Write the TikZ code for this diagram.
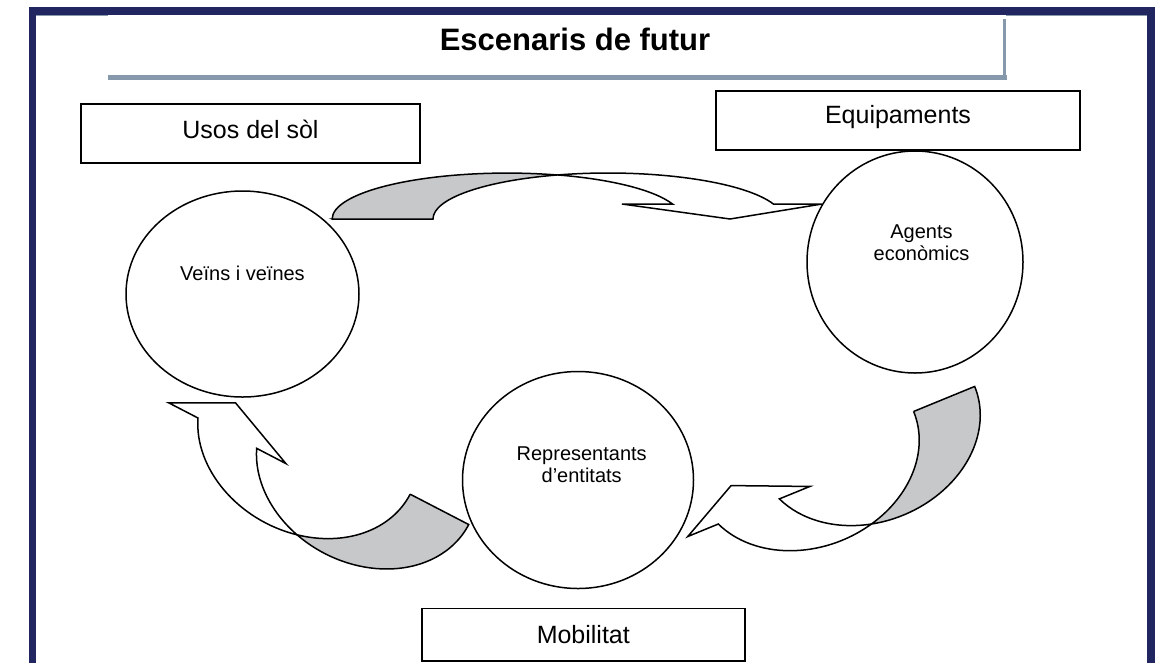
\documentclass[tikz,border=0pt]{standalone}
\usepackage{fontspec}
\setmainfont{Liberation Sans}
\usetikzlibrary{shapes.geometric}
\definecolor{framenavy}{RGB}{34,38,96}
\definecolor{shadowblue}{RGB}{134,152,171}
\definecolor{backgray}{RGB}{198,200,202}
\tikzstyle{bubble}=[draw,ellipse,line width=1.5pt,inner sep=0pt]
\tikzstyle{topic}=[draw,rectangle,line width=1.8pt,inner sep=0pt,text height=18pt,font=\fontsize{25}{30}\selectfont]
\tikzstyle{who}=[inner sep=0pt,align=center,font=\fontsize{20}{22}\selectfont]
\tikzstyle{band}=[draw,line width=1.5pt,fill=white]
\tikzstyle{bandback}=[band,fill=backgray]

% curved arrow of the lower ring, head at the origin, tail to the right
\newcommand{\bandarrow}{%
  \filldraw[bandback] (223.4,-30) -- (289.4,-30)
    arc[start angle=0,end angle=106.7,x radius=114.8,y radius=92]
    arc[start angle=73.3,end angle=0,x radius=114.8,y radius=92] -- cycle;
  \filldraw[band] (141.6,58.1)
    arc[start angle=106.7,end angle=161,x radius=114.8,y radius=92]
    -- (99,0) -- (26.4,-30.7) -- (-33,0) -- (0,0)
    arc[start angle=161,end angle=73.3,x radius=114.8,y radius=92] -- cycle;
}

\begin{document}
\begin{tikzpicture}[x=1pt,y=-1pt]
    \path[use as bounding box,clip] (0,0) rectangle (1161,662);
    % frame and title
    \draw[framenavy,line width=7.5pt] (32.5,700) |- (1151,11) -- (1151,700);
    \draw[shadowblue,line width=1.5pt] (36,15.5) -- (108,15.5) (1006,15.5) -- (1147,15.5);
    \draw[shadowblue,line width=2.5pt] (1004.5,19) -- (1004.5,77.5);
    \draw[shadowblue,line width=5pt] (108,77.5) -- (1007,77.5);
    \node[font=\fontsize{31}{37}\selectfont\bfseries,anchor=base,inner sep=0pt] (title) at (575,50) {Escenaris de futur};

    % topics
    \node[topic,minimum width=339pt,minimum height=59pt,text depth=8.7pt] (usos) at (250.5,133.7) {Usos del sòl};
    \node[topic,minimum width=364pt,minimum height=59pt,text depth=12pt] (equip) at (898,120.5) {Equipaments};
    \node[topic,minimum width=323pt,minimum height=52.5pt,text depth=0pt] (mobil) at (583.3,634.75) {Mobilitat};

    % actors
    \node[bubble,minimum width=233pt,minimum height=206pt] (veins) at (242.5,294) {};
    \node[bubble,minimum width=216pt,minimum height=222pt] (agents) at (915,262) {};
    \node[bubble,minimum width=231pt,minimum height=217pt] (repr) at (578,480) {};
    \node[who,anchor=base] (veinstext) at (242.5,280) {Veïns i veïnes};
    \node[who,anchor=north] (agentstext) at (921.5,225) {Agents\\econòmics};
    \node[who,anchor=north] (reprtext) at (581.7,446.7) {Representants\\d’entitats};

    % upper arrow
    \filldraw[bandback] (332,219) -- (433,219)
      arc[start angle=180,end angle=253.1,x radius=175,y radius=46]
      arc[start angle=286.6,end angle=180,x radius=175,y radius=46] -- cycle;
    \filldraw[band] (557.1,175)
      arc[start angle=253.1,end angle=341,x radius=175,y radius=46]
      -- (822,204) -- (730,219) -- (622,204) -- (672.5,204)
      arc[start angle=341,end angle=286.6,x radius=175,y radius=46] -- cycle;

    % lower arrows
    \begin{scope}[shift={(198,418)},rotate=-27.4]
      \bandarrow
    \end{scope}
    \begin{scope}[shift={(718.3,524)},rotate=22.3]
      \bandarrow
    \end{scope}
\end{tikzpicture}
\end{document}
